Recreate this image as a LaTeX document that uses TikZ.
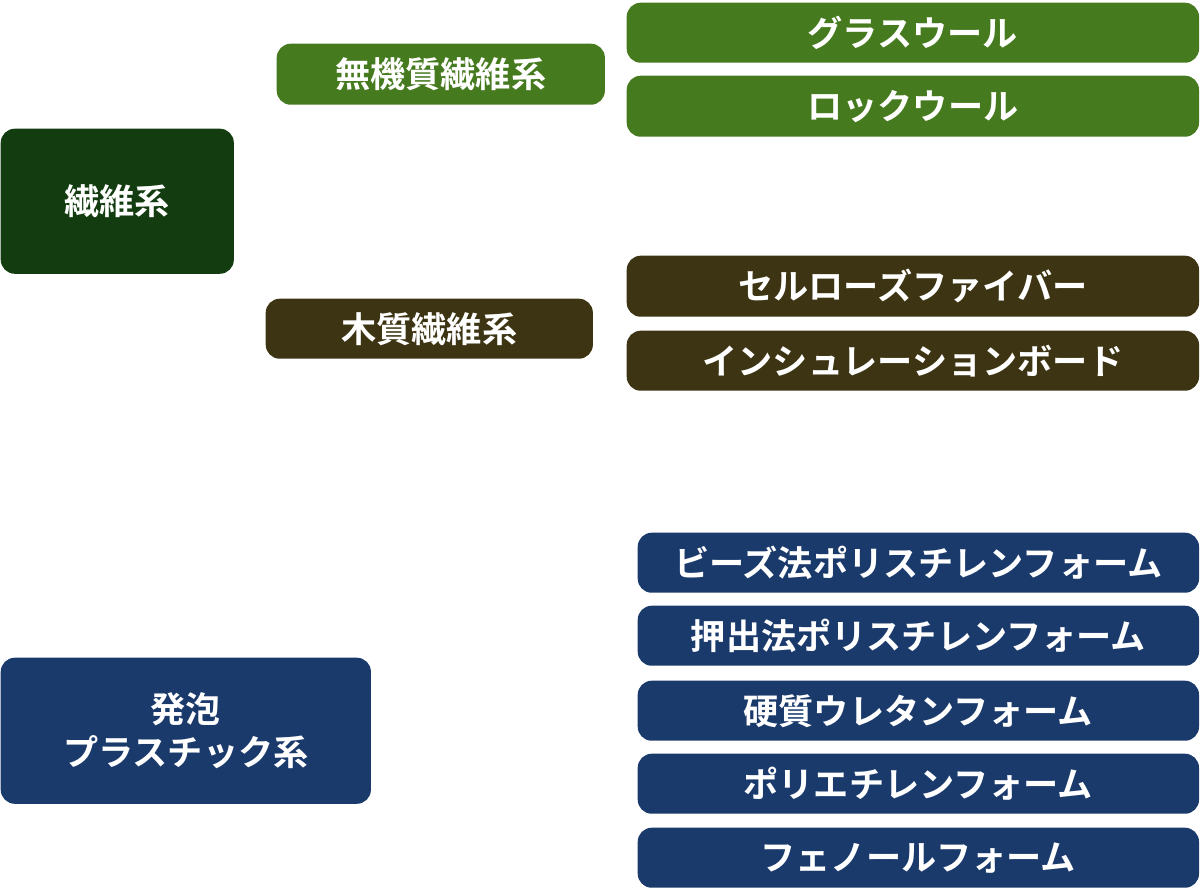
\documentclass[tikz,border=0pt]{standalone}
\usepackage{fontspec}
\newfontfamily\cjk{Noto Sans CJK JP}[BoldFont={Noto Sans CJK JP Bold}]
\definecolor{darkgreen}{HTML}{133D10}
\definecolor{leafgreen}{HTML}{467A1E}
\definecolor{woodbrown}{HTML}{3C3412}
\definecolor{navyblue}{HTML}{1B3A6C}
\begin{document}
\begin{tikzpicture}[x=0.01cm,y=-0.01cm,
    box/.style={fill=#1, rounded corners=4pt, anchor=north west, inner sep=0pt,
      text=white, font=\cjk\bfseries\fontsize{10}{12}\selectfont, align=center}]

    % Frame
    \useasboundingbox (0,0) rectangle (1200,891);

    % Fibre group
    \node[box=darkgreen, minimum width=2.33cm, minimum height=1.45cm] (fibre) at (0,128) {繊維系};
    \node[box=leafgreen, minimum width=3.28cm, minimum height=0.61cm] (inorg) at (276,43) {無機質繊維系};
    \node[box=leafgreen, minimum width=5.72cm, minimum height=0.60cm] (glass) at (626,2) {グラスウール};
    \node[box=leafgreen, minimum width=5.72cm, minimum height=0.61cm] (rock) at (626,75) {ロックウール};
    \node[box=woodbrown, minimum width=3.27cm, minimum height=0.60cm] (wood) at (265,298) {木質繊維系};
    \node[box=woodbrown, minimum width=5.72cm, minimum height=0.61cm] (cellu) at (626,255) {セルローズファイバー};
    \node[box=woodbrown, minimum width=5.72cm, minimum height=0.60cm] (insul) at (626,330) {インシュレーションボード};

    % Foam group
    \node[box=navyblue, minimum width=3.70cm, minimum height=1.46cm] (foam) at (0,657) {発泡\\プラスチック系};
    \node[box=navyblue, minimum width=5.61cm, minimum height=0.60cm] (beads) at (637,532) {ビーズ法ポリスチレンフォーム};
    \node[box=navyblue, minimum width=5.61cm, minimum height=0.60cm] (extr) at (637,605) {押出法ポリスチレンフォーム};
    \node[box=navyblue, minimum width=5.61cm, minimum height=0.60cm] (ureth) at (637,680) {硬質ウレタンフォーム};
    \node[box=navyblue, minimum width=5.61cm, minimum height=0.60cm] (polye) at (637,753) {ポリエチレンフォーム};
    \node[box=navyblue, minimum width=5.61cm, minimum height=0.60cm] (phenol) at (637,827) {フェノールフォーム};

\end{tikzpicture}
\end{document}
